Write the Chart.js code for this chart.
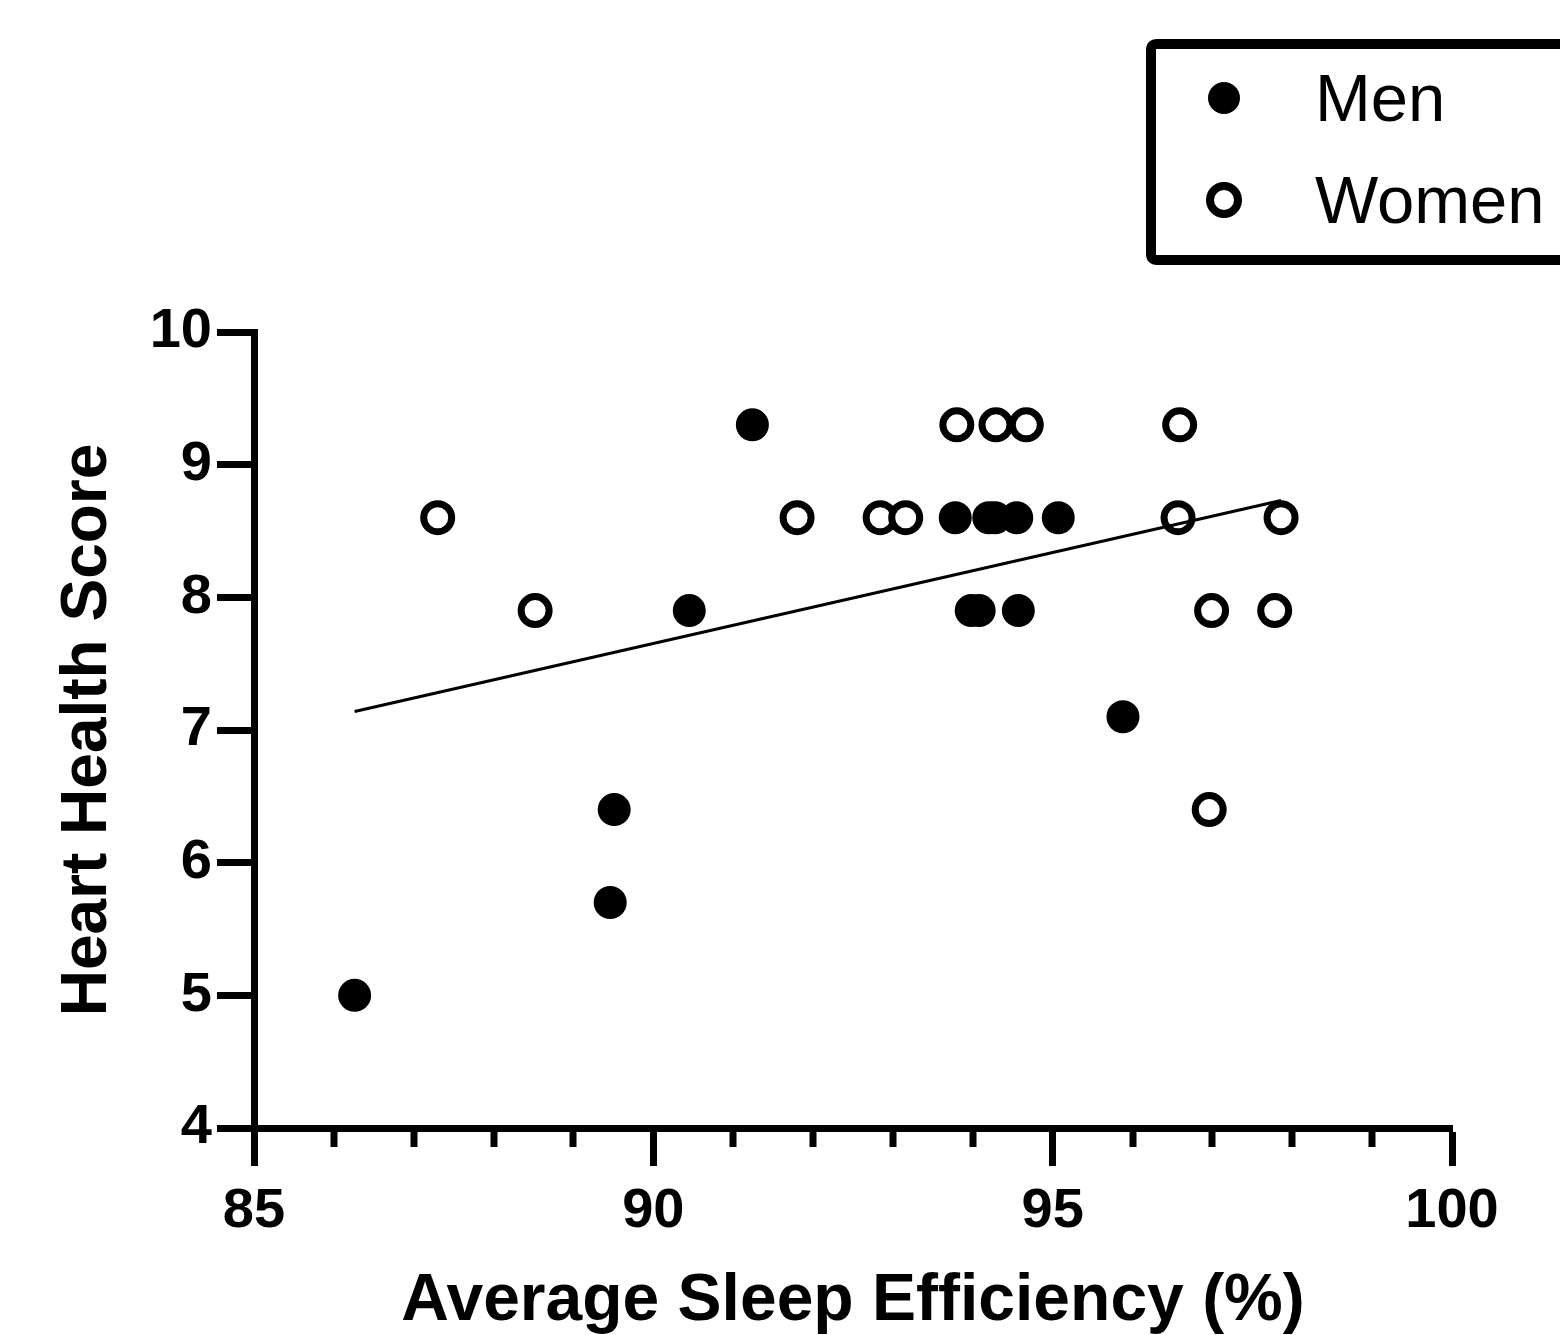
<!DOCTYPE html>
<html>
<head>
<meta charset="utf-8">
<script src="https://cdn.jsdelivr.net/npm/chart.js@4.4.1/dist/chart.umd.min.js"></script>
<style>
html,body{margin:0;padding:0;background:#fff;}
canvas{display:block;}
</style>
</head>
<body>
<canvas id="c" width="1560" height="1335"></canvas>
<script>
// ---- data ----
const seriesNames = ["Men", "Women"];
const menX = [86.26, 89.51, 89.46, 90.45, 91.24, 93.78, 94.20, 94.28, 94.55, 95.07, 93.98, 94.08, 94.57, 95.88];
const menY = [5.0, 6.4, 5.7, 7.9, 9.3, 8.6, 8.6, 8.6, 8.6, 8.6, 7.9, 7.9, 7.9, 7.1];
const womenX = [87.30, 88.52, 91.80, 92.84, 93.16, 93.80, 94.29, 94.67, 96.59, 96.57, 97.86, 96.99, 97.78, 96.96];
const womenY = [8.6, 7.9, 8.6, 8.6, 8.6, 9.3, 9.3, 9.3, 9.3, 8.6, 8.6, 7.9, 7.9, 6.4];
const fitX = [86.26, 97.86];
const fitY = [7.14, 8.73];
const xTicks = [85, 90, 95, 100];
const xMinorTicks = [86, 87, 88, 89, 91, 92, 93, 94, 96, 97, 98, 99];
const yTicks = [4, 5, 6, 7, 8, 9, 10];
const xTitle = "Average Sleep Efficiency (%)";
const yTitle = "Heart Health Score";

const toPts = (xs, ys) => xs.map((x, i) => ({x: x, y: ys[i]}));
const FONT = "'Liberation Sans', Arial, Helvetica, sans-serif";

const minorTickPlugin = {
  id: 'minorTicks',
  afterDraw(chart) {
    const xs = chart.scales.x;
    const ctx = chart.ctx;
    const y0 = chart.chartArea.bottom;
    ctx.save();
    ctx.strokeStyle = '#000';
    ctx.lineWidth = 7;
    ctx.lineCap = 'butt';
    xMinorTicks.forEach(v => {
      const px = Math.round(xs.getPixelForValue(v));
      ctx.beginPath();
      ctx.moveTo(px, y0 - 3);
      ctx.lineTo(px, y0 + 19);
      ctx.stroke();
    });
    ctx.restore();
  }
};

const legendBoxPlugin = {
  id: 'legendBox',
  afterDraw(chart) {
    const ctx = chart.ctx;
    ctx.save();
    // box (right side runs off the canvas)
    ctx.strokeStyle = '#000';
    ctx.lineWidth = 10;
    ctx.lineJoin = 'round';
    ctx.beginPath();
    const bx = 1151, by = 44, bw = 460, bh = 216, r = 6;
    ctx.moveTo(bx + bw, by);
    ctx.lineTo(bx + r, by);
    ctx.quadraticCurveTo(bx, by, bx, by + r);
    ctx.lineTo(bx, by + bh - r);
    ctx.quadraticCurveTo(bx, by + bh, bx + r, by + bh);
    ctx.lineTo(bx + bw, by + bh);
    ctx.stroke();
    // entries
    const rows = [
      {ds: chart.data.datasets[1], y: 98, r: 14, w: 4},
      {ds: chart.data.datasets[2], y: 200, r: 14, w: 8}
    ];
    rows.forEach(row => {
      const ds = row.ds;
      ctx.beginPath();
      ctx.arc(1224, row.y, row.r, 0, Math.PI * 2);
      ctx.fillStyle = ds.pointBackgroundColor;
      ctx.fill();
      ctx.lineWidth = row.w;
      ctx.strokeStyle = ds.pointBorderColor;
      ctx.stroke();
      ctx.fillStyle = '#000';
      ctx.font = "67px " + FONT;
      ctx.textAlign = 'left';
      ctx.textBaseline = 'alphabetic';
      ctx.fillText(ds.label, 1315, row.y + 23);
    });
    ctx.restore();
  }
};

const chart = new Chart(document.getElementById('c'), {
  type: 'scatter',
  data: {
    datasets: [
      {
        label: 'fit',
        type: 'line',
        data: toPts(fitX, fitY),
        borderColor: '#000',
        borderWidth: 3,
        pointRadius: 0,
        fill: false,
        order: 0
      },
      {
        label: seriesNames[0],
        data: toPts(menX, menY),
        pointRadius: 15,
        pointBackgroundColor: '#000',
        pointBorderColor: '#000',
        pointBorderWidth: 3,
        order: 1
      },
      {
        label: seriesNames[1],
        data: toPts(womenX, womenY),
        pointRadius: 14,
        pointBackgroundColor: '#fff',
        pointBorderColor: '#000',
        pointBorderWidth: 7,
        order: 1
      }
    ]
  },
  options: {
    responsive: false,
    animation: false,
    events: [],
    layout: { padding: { left: 0, top: 332, right: 108, bottom: 0 } },
    plugins: {
      legend: { display: false },
      tooltip: { enabled: false }
    },
    scales: {
      x: {
        type: 'linear',
        min: 85, max: 100,
        afterBuildTicks: s => { s.ticks = xTicks.map(v => ({value: v})); },
        afterFit: s => { s.height = 207; },
        border: { display: true, color: '#000', width: 7 },
        grid: { drawOnChartArea: false, drawTicks: true, tickLength: 38, tickWidth: 7, tickColor: '#000' },
        ticks: {
          color: '#000',
          padding: 12,
          maxRotation: 0,
          font: { family: FONT, size: 56, weight: 'bold' }
        },
        title: {
          display: true,
          text: xTitle,
          color: '#000',
          font: { family: FONT, size: 66, weight: 'bold', lineHeight: 1 },
          padding: { top: 2, bottom: 0 }
        }
      },
      y: {
        type: 'linear',
        min: 4, max: 10,
        afterBuildTicks: s => { s.ticks = yTicks.map(v => ({value: v})); },
        afterFit: s => { s.width = 254; },
        border: { display: true, color: '#000', width: 7 },
        grid: { drawOnChartArea: false, drawTicks: true, tickLength: 37, tickWidth: 7, tickColor: '#000' },
        ticks: {
          color: '#000',
          padding: 5,
          font: { family: FONT, size: 56, weight: 'bold' }
        },
        title: {
          display: true,
          text: yTitle,
          color: '#000',
          font: { family: FONT, size: 64, weight: 'bold', lineHeight: 1 },
          padding: { top: 56, bottom: 0 }
        }
      }
    }
  },
  plugins: [minorTickPlugin, legendBoxPlugin]
});
</script>
</body>
</html>
